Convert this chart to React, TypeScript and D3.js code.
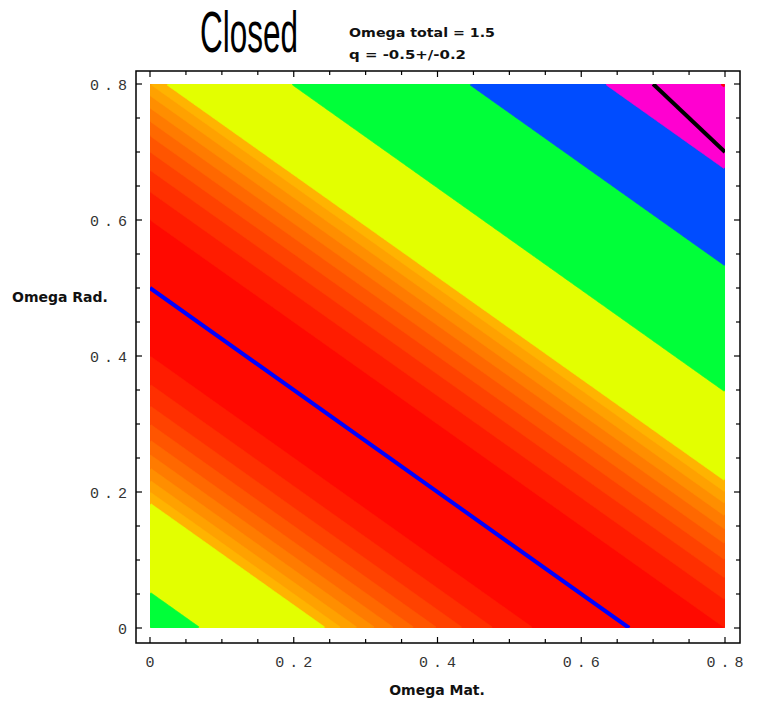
import React, { useLayoutEffect, useRef } from "react";
import * as d3 from "d3";

// ---- data / model ----
const omegaTotal = 1.5;
const qCenter = -0.5;
const qSigma = 0.2;
const chi2Levels = [0, 1, 2, 3, 4, 5, 6, 7, 8, 9, 10, 20, 40, 60, 80];
const chi2HueMax = 81;
const xMajorTicks = [0, 0.2, 0.4, 0.6, 0.8];
const yMajorTicks = [0, 0.2, 0.4, 0.6, 0.8];
const minorTicks = [0, 0.05, 0.1, 0.15, 0.2, 0.25, 0.3, 0.35, 0.4, 0.45, 0.5, 0.55, 0.6, 0.65, 0.7, 0.75, 0.8];
const qLine = [
  { m: 0, r: 0.5 },
  { m: 2 / 3, r: 0 },
];
const lambdaZeroLine = [
  { m: 0.7, r: 0.8 },
  { m: 0.8, r: 0.7 },
];
const titleText = "Closed";
const subtitleLines = ["Omega total = 1.5", "q = -0.5+/-0.2"];
const xLabel = "Omega Mat.";
const yLabel = "Omega Rad.";

// q = Om/2 + Or - OL, with OL = Otot - Om - Or
function chi2(m: number, r: number) {
  const q = 1.5 * m + 2 * r - omegaTotal;
  const d = (q - qCenter) / qSigma;
  return d * d;
}

const W = 760;
const H = 706;
const plot = { x0: 150, x1: 725, y0: 628, y1: 84 };
const frame = { left: 136, top: 71, right: 740, bottom: 643 };
const titleBox = { x: 200, y: 52, width: 98 };

export default function App() {
  const titleRef = useRef<SVGTextElement | null>(null);

  useLayoutEffect(() => {
    const el = titleRef.current;
    if (!el) return;
    const w = el.getComputedTextLength();
    const sx = w > 0 ? titleBox.width / w : 1;
    el.setAttribute("transform", `translate(${titleBox.x},${titleBox.y}) scale(${sx},1)`);
  }, []);

  const xs = d3.scaleLinear().domain([0, 0.8]).range([plot.x0, plot.x1]);
  const ys = d3.scaleLinear().domain([0, 0.8]).range([plot.y0, plot.y1]);

  const n = 260;
  const values: number[] = new Array(n * n);
  for (let j = 0; j < n; j++) {
    for (let i = 0; i < n; i++) {
      const m = ((i + 0.5) / n) * 0.8;
      const r = ((j + 0.5) / n) * 0.8;
      values[j * n + i] = chi2(m, r);
    }
  }
  const contours = d3.contours().size([n, n]).thresholds(chi2Levels)(values);
  const proj = d3.geoTransform({
    point: function (x: number, y: number) {
      (this as any).stream.point(xs((x / n) * 0.8), ys((y / n) * 0.8));
    },
  });
  const path = d3.geoPath(proj);

  const bandColor = (k: number) => {
    const lo = chi2Levels[k];
    const hi = k + 1 < chi2Levels.length ? chi2Levels[k + 1] : chi2HueMax;
    const mid = Math.min((lo + hi) / 2, chi2HueMax);
    const h = (mid / chi2HueMax) * 360;
    return d3.hsl(h % 360, 1, 0.5).formatHex();
  };

  const line = d3
    .line<{ m: number; r: number }>()
    .x((d) => xs(d.m))
    .y((d) => ys(d.r));

  const tickFont = "'Liberation Mono', 'DejaVu Sans Mono', monospace";
  const labelFont = "'DejaVu Sans', Verdana, sans-serif";
  const fmt = (v: number) => (v === 0 ? "0" : d3.format(".1f")(v));

  return (
    <div style={{ position: "absolute", left: 0, top: 0 }}>
      <svg width={W} height={H} style={{ display: "block", background: "#fff" }}>
        <defs>
          <clipPath id="plotclip">
            <rect x={plot.x0} y={plot.y1} width={plot.x1 - plot.x0} height={plot.y0 - plot.y1} />
          </clipPath>
        </defs>
        <g clipPath="url(#plotclip)">
          {contours.map((c, k) => (
            <path key={k} d={path(c as any) || ""} fill={bandColor(k)} stroke={bandColor(k)} strokeWidth={0.6} />
          ))}
          <path d={line(qLine) || ""} stroke="#0000ff" strokeWidth={4} fill="none" />
          <path d={line(lambdaZeroLine) || ""} stroke="#000" strokeWidth={4} fill="none" />
        </g>

        {/* frame */}
        <rect
          x={frame.left}
          y={frame.top}
          width={frame.right - frame.left}
          height={frame.bottom - frame.top}
          fill="none"
          stroke="#000"
          strokeWidth={1.5}
        />
        {minorTicks.map((t, i) => {
          const major = xMajorTicks.some((v) => Math.abs(v - t) < 1e-9);
          const len = major ? 6 : 4;
          return (
            <g key={"t" + i} stroke="#000" strokeWidth={1.2}>
              <line x1={xs(t)} x2={xs(t)} y1={frame.bottom} y2={frame.bottom - len} />
              <line x1={xs(t)} x2={xs(t)} y1={frame.top} y2={frame.top + len} />
              <line y1={ys(t)} y2={ys(t)} x1={frame.left} x2={frame.left + len} />
              <line y1={ys(t)} y2={ys(t)} x1={frame.right} x2={frame.right - len} />
            </g>
          );
        })}

        {/* tick labels */}
        {xMajorTicks.map((t) => {
          const s = fmt(t);
          return (
            <text
              key={"xl" + t}
              x={xs(t)}
              y={667}
              textAnchor="middle"
              fontFamily={tickFont}
              fontSize={15}
              fill="#333"
              {...(s.length > 1 ? { textLength: 37, lengthAdjust: "spacing" } : {})}
            >
              {s}
            </text>
          );
        })}
        {yMajorTicks.map((t) => {
          const s = fmt(t);
          return (
            <text
              key={"yl" + t}
              x={127}
              y={ys(t) + 5.5}
              textAnchor="end"
              fontFamily={tickFont}
              fontSize={15}
              fill="#333"
              {...(s.length > 1 ? { textLength: 37, lengthAdjust: "spacing" } : {})}
            >
              {s}
            </text>
          );
        })}

        {/* axis labels */}
        <text x={437} y={695} textAnchor="middle" fontFamily={labelFont} fontWeight="bold" fontSize={14} fill="#111">
          {xLabel}
        </text>
        <text x={12} y={302} fontFamily={labelFont} fontWeight="bold" fontSize={14} fill="#111">
          {yLabel}
        </text>

        {/* title */}
        <text
          ref={titleRef}
          x={0}
          y={0}
          transform={`translate(${titleBox.x},${titleBox.y}) scale(0.56,1)`}
          fontFamily="'Liberation Sans Narrow', 'Liberation Sans', Arial, sans-serif"
          fontSize={58}
          fill="#000"
        >
          {titleText}
        </text>
        {subtitleLines.map((s, i) => (
          <text
            key={"st" + i}
            x={349}
            y={37 + i * 21.5}
            fontFamily={labelFont}
            fontWeight="bold"
            fontSize={13}
            fill="#111"
            textLength={i === 0 ? 146 : 117}
            lengthAdjust="spacingAndGlyphs"
          >
            {s}
          </text>
        ))}
      </svg>
    </div>
  );
}
